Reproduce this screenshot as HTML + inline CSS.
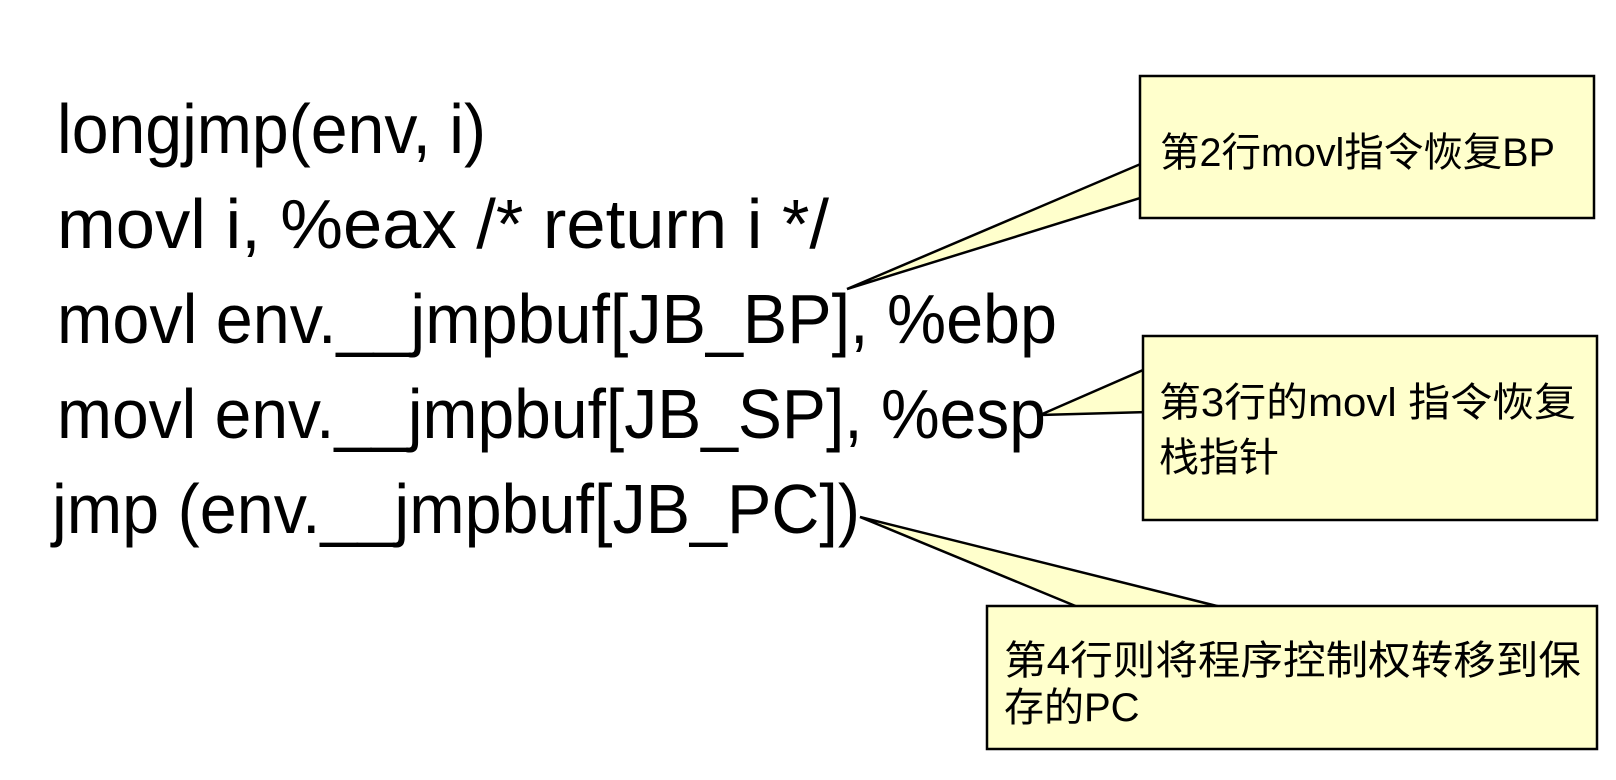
<!DOCTYPE html>
<html><head><meta charset="utf-8"><style>
html,body{margin:0;padding:0;background:#fff;}
svg{display:block;}
.code{font-family:"Liberation Sans","DejaVu Sans",sans-serif;font-size:70px;fill:#000;}
.cj{font-family:"Liberation Sans","Noto Sans CJK SC",sans-serif;font-size:40px;fill:#000;}
</style></head><body>
<svg width="1616" height="780" viewBox="0 0 1616 780" xmlns="http://www.w3.org/2000/svg">
<text class="code" x="57" y="153" textLength="429" lengthAdjust="spacingAndGlyphs">longjmp(env, i)</text>
<text class="code" x="57" y="248" textLength="772" lengthAdjust="spacingAndGlyphs">movl i, %eax /* return i */</text>
<text class="code" x="57" y="343" textLength="1000" lengthAdjust="spacingAndGlyphs">movl env.__jmpbuf[JB_BP], %ebp</text>
<text class="code" x="57" y="438" textLength="989" lengthAdjust="spacingAndGlyphs">movl env.__jmpbuf[JB_SP], %esp</text>
<text class="code" x="52" y="533" textLength="808" lengthAdjust="spacingAndGlyphs">jmp (env.__jmpbuf[JB_PC])</text>

<g fill="#ffffcc" stroke="#000" stroke-width="2.5">
<polygon points="847,289 1150,160 1150,195"/>
<rect x="1140" y="76" width="454" height="142"/>
<polygon points="1040,415 1150,367 1150,412"/>
<rect x="1143" y="336" width="454" height="184"/>
<polygon points="860,517 1090,612 1241,612"/>
<rect x="987" y="606" width="610" height="143"/>
</g>
<g fill="#ffffcc" stroke="none">
<rect x="1141.5" y="150" width="10" height="50"/>
<rect x="1144.5" y="362" width="10" height="55"/>
<rect x="1085" y="607.5" width="160" height="10"/>
</g>
<text class="cj" x="1160" y="166" textLength="395" lengthAdjust="spacingAndGlyphs">第2行movl指令恢复BP</text>
<text class="cj" x="1159" y="416" textLength="417" lengthAdjust="spacingAndGlyphs">第3行的movl 指令恢复</text>
<text class="cj" x="1159" y="471">栈指针</text>
<text class="cj" x="1004" y="674" textLength="577" lengthAdjust="spacingAndGlyphs">第4行则将程序控制权转移到保</text>
<text class="cj" x="1004" y="721">存的PC</text>
</svg>
</body></html>
